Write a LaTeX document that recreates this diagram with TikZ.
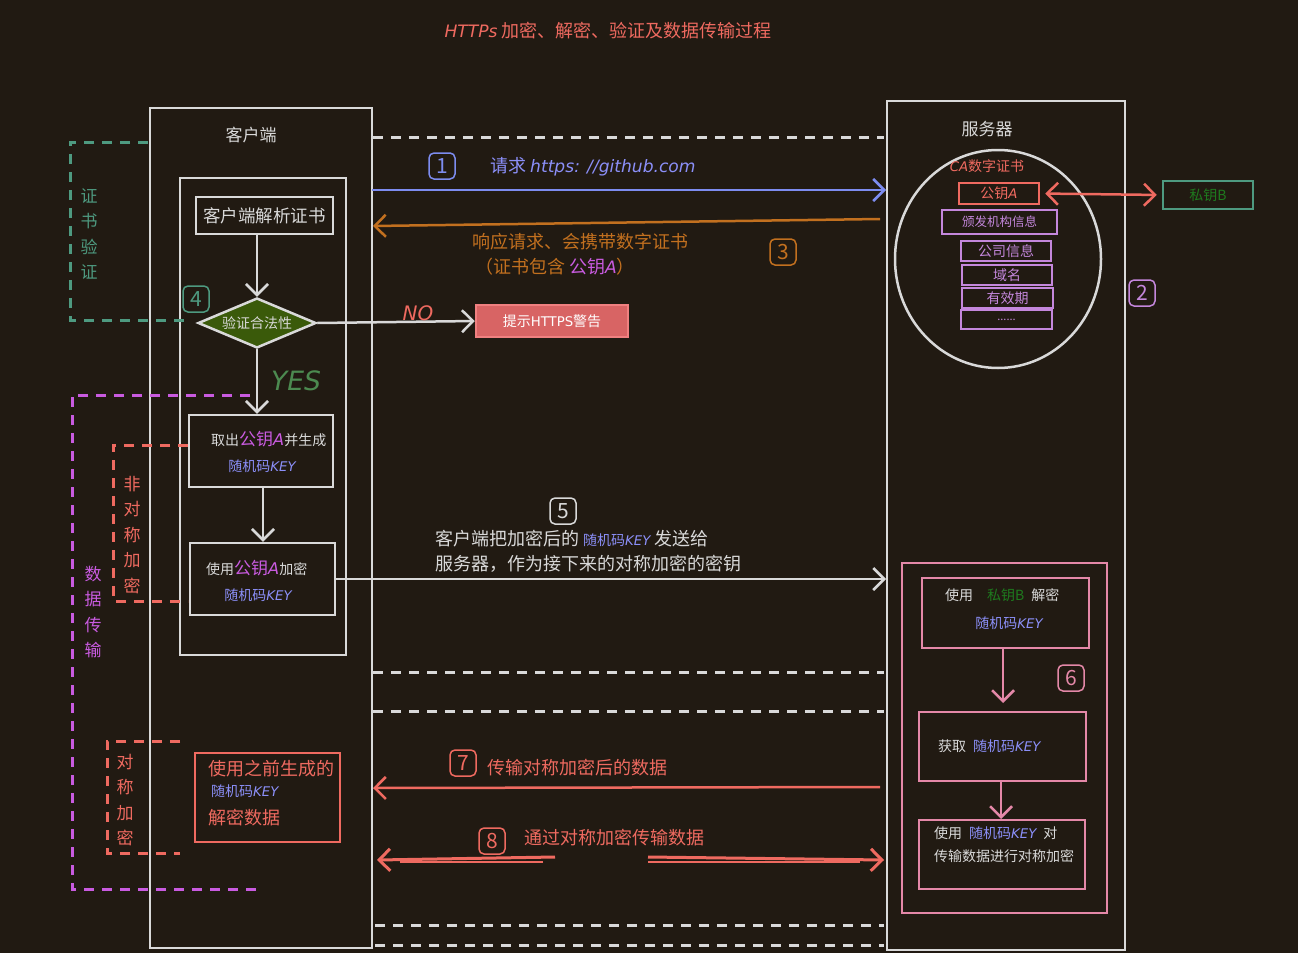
\documentclass[tikz,border=0pt]{standalone}
\usepackage{fontspec}
\setmainfont{Noto Sans CJK SC}
\newfontfamily\hand{DejaVu Sans}[Scale=0.95]
\usetikzlibrary{arrows.meta,shapes.geometric}
\definecolor{bg}{HTML}{211A12}
\definecolor{wht}{HTML}{D9D9D9}
\definecolor{blu}{HTML}{7D8CF0}
\definecolor{blut}{HTML}{8B8FF8}
\definecolor{org}{HTML}{C2701F}
\definecolor{sal}{HTML}{EF6A60}
\definecolor{mag}{HTML}{C95BE0}
\definecolor{pur}{HTML}{C487DC}
\definecolor{grn}{HTML}{4E9A80}
\definecolor{yesg}{HTML}{4C8A50}
\definecolor{dgrn}{HTML}{1E7A1E}
\definecolor{dfill}{HTML}{3A5A0A}
\definecolor{wfill}{HTML}{D86464}
\definecolor{wbord}{HTML}{F08080}
\definecolor{pnk}{HTML}{E488A8}
\newcommand{\rkey}{{\color{blut}随机码{\hand\itshape KEY}}}
\newcommand{\pubA}{{\color{mag}公钥{\hand\itshape A}}}
\tikzset{
  fs/.style={font=\fontsize{#1pt}{#1pt}\selectfont},
  lbl/.style={inner sep=0pt},
  box/.style={draw=#1, line width=2.5pt, rectangle, inner sep=0pt},
  arr/.style={draw=#1, line width=2.5pt, -{Straight Barb[length=11pt,width=22pt]}},
  brk/.style={draw=#1, line width=3pt, dash pattern=on 10pt off 8pt},
  sep/.style={draw=wht, line width=3pt, dash pattern=on 10pt off 8pt},
  num/.style={draw=#1, text=#1, line width=1.5pt, rounded corners=5pt, minimum size=26pt, inner sep=0pt, font=\fontsize{21pt}{21pt}\selectfont},
  vert/.style={align=center, inner sep=0pt, text=#1, font=\fontsize{17pt}{25.5pt}\selectfont},
}
\begin{document}
\begin{tikzpicture}[x=1pt,y=-1pt]
\fill[bg] (0,0) rectangle (1298,953);
\useasboundingbox (0,0) rectangle (1298,953);

% title
\node[lbl, text=sal, fs=18] (title) at (608,31) {{\hand\itshape HTTPs} 加密、解密、验证及数据传输过程};

% client side
\node[box=wht, minimum width=222, minimum height=840] (client) at (261,528) {};
\node[lbl, text=wht, fs=17] (clientlbl) at (251,135) {客户端};
\node[box=wht, minimum width=166, minimum height=477] (cinner) at (263,416.5) {};
\node[box=wht, minimum width=137, minimum height=37, text=wht, fs=17.5] (parse) at (264.5,215.5) {客户端解析证书};
\node[diamond, aspect=2.4, draw=wht, fill=dfill, line width=2.5pt, inner sep=0pt, minimum width=118, minimum height=50, text=wht, fs=14] (check) at (257,323) {验证合法性};
\node[box=wbord, fill=wfill, minimum width=152, minimum height=32, text=white, fs=14] (warn) at (552,321) {提示{\hand HTTPS}警告};
\node[box=wht, minimum width=144, minimum height=72] (take) at (261,451) {};
\node[lbl, anchor=west, fs=14, text=wht] (taket) at (211,439) {取出{\fontsize{17pt}{17pt}\selectfont\pubA}并生成};
\node[lbl, fs=14] (takek) at (262,466) {\rkey};
\node[box=wht, minimum width=145, minimum height=72] (enc) at (262.5,579) {};
\node[lbl, anchor=west, fs=14, text=wht] (enct) at (206,568) {使用{\fontsize{17pt}{17pt}\selectfont\pubA}加密};
\node[lbl, fs=14] (enck) at (258,595) {\rkey};
\node[box=sal, minimum width=145, minimum height=89] (dec) at (267.5,797.5) {};
\node[lbl, anchor=west, text=sal, fs=18] (dec1) at (208,769) {使用之前生成的};
\node[lbl, anchor=west, fs=14] (dec2) at (211,791) {\rkey};
\node[lbl, anchor=west, text=sal, fs=18] (dec3) at (208,818) {解密数据};

% client flow arrows
\draw[arr=wht] (parse.south -| check.north) -- (check.north);
\draw[arr=wht] (check.east) -- (warn.west);
\node[lbl, text=sal, fs=21] (nolbl) at (418,313) {\hand\itshape NO};
\draw[arr=wht] (check.south) -- (check.south |- take.north);
\node[lbl, text=yesg, fs=28] (yeslbl) at (296,381) {\hand\itshape YES};
\draw[arr=wht] (263,487) coordinate (tk) -- (tk |- enc.north);

% server side
\node[box=wht, minimum width=238, minimum height=849] (server) at (1006,525.5) {};
\node[lbl, text=wht, fs=17] (serverlbl) at (987,129) {服务器};
\node[ellipse, draw=wht, line width=2.5pt, minimum width=206, minimum height=218] (cert) at (998,259) {};
\node[lbl, text=sal, fs=14] (calbl) at (987,166) {{\hand\itshape CA}数字证书};
\node[box=sal, minimum width=80, minimum height=21, text=sal, fs=14] (pkA) at (999,193.5) {公钥{\hand\itshape A}};
\node[box=grn, minimum width=90, minimum height=28, text=dgrn, fs=14] (pkB) at (1208,195) {私钥B};
\draw[draw=sal, line width=2.5pt, {Straight Barb[length=11pt,width=22pt]}-{Straight Barb[length=11pt,width=22pt]}, shorten <=5pt, shorten >=5pt] (pkA.east) -- (pkB.west);
\node[box=pur, minimum width=115, minimum height=24, text=pur, fs=12.5] (issuer) at (999.5,222) {颁发机构信息};
\node[box=pur, minimum width=90, minimum height=20, text=pur, fs=14] (company) at (1006,251) {公司信息};
\node[box=pur, minimum width=90, minimum height=20, text=pur, fs=14] (domain) at (1007,275) {域名};
\node[box=pur, minimum width=91, minimum height=20, text=pur, fs=14] (valid) at (1007.5,298) {有效期};
\node[box=pur, minimum width=91, minimum height=19, text=pur, fs=11] (more) at (1006.5,319.5) {......};

\node[box=pnk, minimum width=205, minimum height=350] (grp) at (1004.5,738) {};
\node[box=pnk, minimum width=167, minimum height=70] (s1) at (1005.5,613) {};
\node[lbl, anchor=west, text=wht, fs=14] (s1t) at (945,595) {使用\quad{\color{dgrn}私钥B}\enspace 解密};
\node[lbl, fs=14] (s1k) at (1009,623) {\rkey};
\node[box=pnk, minimum width=167, minimum height=69] (s2) at (1002.5,746.5) {};
\node[lbl, anchor=west, text=wht, fs=14] (s2t) at (938,746) {获取\enspace\rkey};
\node[box=pnk, minimum width=166, minimum height=69] (s3) at (1002,854.5) {};
\node[lbl, anchor=west, text=wht, fs=14] (s3a) at (934,833) {使用\enspace\rkey\enspace 对};
\node[lbl, anchor=west, text=wht, fs=14] (s3b) at (934,856) {传输数据进行对称加密};
\draw[arr=pnk] (1003,648) coordinate (s1b) -- (1003,703) coordinate (s2a);
\draw[arr=pnk] (1001,781) coordinate (s2b) -- (1001,819) coordinate (s3t);

% separators
\draw[sep] (373,137) coordinate (d1a) -- (884,137) coordinate (d1b);
\draw[sep] (373,672) coordinate (d2a) -- (884,672) coordinate (d2b);
\draw[sep] (373,711) coordinate (d3a) -- (884,711) coordinate (d3b);
\draw[sep] (375,925) coordinate (d4a) -- (884,925) coordinate (d4b);
\draw[sep] (375,945) coordinate (d5a) -- (884,945) coordinate (d5b);

% messages
\coordinate (m1a) at (372,190); \coordinate (m1b) at (886,190);
\draw[arr=blu] (m1a) -- (m1b);
\node[num=blu] (n1) at (442,166) {1};
\node[lbl, anchor=west, text=blut, fs=18] (m1t) at (490,167) {请求 {\hand\itshape https: //github.com}};

\coordinate (m3a) at (880,219); \coordinate (m3b) at (373,226);
\draw[arr=org] (m3a) -- (m3b);
\node[lbl, text=org, fs=18] (m3t1) at (580,242) {响应请求、会携带数字证书};
\node[lbl, anchor=west, text=org, fs=18] (m3t2) at (475,267) {（证书包含 \pubA）};
\node[num=org] (n3) at (783,252) {3};

\coordinate (m5b) at (886,579);
\draw[arr=wht] (enc.east) -- (m5b);
\node[num=wht] (n5) at (563,511) {5};
\node[lbl, anchor=west, text=wht, fs=18] (m5t1) at (435,539) {客户端把加密后的 {\fontsize{14pt}{14pt}\selectfont\rkey} 发送给};
\node[lbl, anchor=west, text=wht, fs=18] (m5t2) at (435,564) {服务器，作为接下来的对称加密的密钥};

\coordinate (m7a) at (880,787); \coordinate (m7b) at (373,788);
\draw[arr=sal] (m7a) -- (m7b);
\node[num=sal] (n7) at (463,763) {7};
\node[lbl, anchor=west, text=sal, fs=18] (m7t) at (487,768) {传输对称加密后的数据};

\coordinate (m8a) at (555,857); \coordinate (m8b) at (377,860);
\coordinate (m8c) at (648,857); \coordinate (m8d) at (884,860);
\draw[arr=sal, line width=3pt] (m8a) -- (m8b);
\draw[draw=sal, line width=2pt] (543,862) -- (400,862);
\draw[arr=sal, line width=3pt] (m8c) -- (m8d);
\draw[draw=sal, line width=2pt] (648,862) -- (860,862);
\node[num=sal] (n8) at (492,841) {8};
\node[lbl, anchor=west, text=sal, fs=18] (m8t) at (524,838) {通过对称加密传输数据};

% side numbers
\node[num=pur] (n2) at (1142,293) {2};
\node[num=grn] (n4) at (196,299) {4};
\node[num=pnk] (n6) at (1071,678) {6};

% dashed brackets
\draw[brk=grn] (148,142) -- (70,142) -- (70,320) -- (190,320);
\node[vert=grn] (vcert) at (89,234) {证\\书\\验\\证};
\draw[brk=mag] (250,395) -- (72,395) -- (72,889) -- (262,889);
\node[vert=mag] (vdata) at (93,612) {数\\据\\传\\输};
\draw[brk=sal] (188,445) -- (113,445) -- (113,601) -- (188,601);
\node[vert=sal] (vasym) at (132,535) {非\\对\\称\\加\\密};
\draw[brk=sal] (180,741) -- (107,741) -- (107,853) -- (180,853);
\node[vert=sal] (vsym) at (125,800) {对\\称\\加\\密};
\end{tikzpicture}
\end{document}
